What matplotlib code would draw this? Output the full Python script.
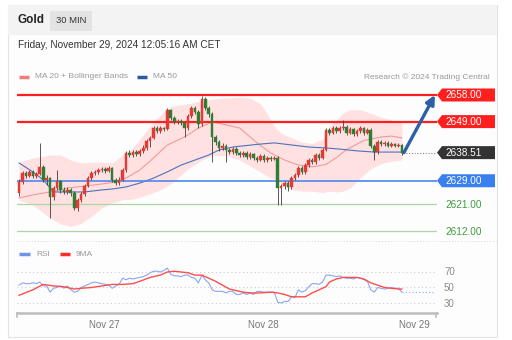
import matplotlib
matplotlib.use("Agg")
import matplotlib.pyplot as plt
import matplotlib.patches as patches

plt.rcParams['font.family'] = ['Liberation Sans', 'DejaVu Sans']

W, H = 512, 340

# 30 min candles, Nov 26 evening -> Nov 29 00:00 CET
closes = [2628.6, 2631.6, 2630.6, 2632.0, 2630.6, 2631.3, 2633.6, 2629.3, 2629.9, 2623.5,
          2626.6, 2628.9, 2625.9, 2625.2, 2625.9, 2624.9, 2619.8, 2622.5, 2624.5, 2627.2,
          2629.9, 2631.6, 2632.0, 2632.6, 2633.0, 2632.3, 2633.3, 2629.3, 2628.2, 2629.3,
          2632.6, 2638.4, 2637.7, 2638.7, 2638.0, 2639.1, 2640.1, 2642.4, 2643.5, 2646.8,
          2645.8, 2646.8, 2646.5, 2652.9, 2650.2, 2648.9, 2649.2, 2648.5, 2646.8, 2650.9,
          2653.6, 2652.3, 2648.2, 2656.7, 2653.6, 2651.6, 2643.8, 2642.1, 2640.1, 2640.8,
          2639.4, 2638.7, 2639.7, 2638.4, 2637.7, 2638.4, 2637.0, 2638.0, 2636.7, 2636.0,
          2637.4, 2636.0, 2636.7, 2636.4, 2636.7, 2626.6, 2627.2, 2628.2, 2626.9, 2629.9,
          2631.0, 2633.3, 2632.0, 2634.3, 2636.0, 2635.3, 2637.7, 2636.7, 2639.4, 2646.2,
          2645.2, 2646.8, 2645.8, 2646.8, 2647.2, 2645.2, 2646.5, 2644.8, 2645.8, 2646.8,
          2645.2, 2646.2, 2640.8, 2638.7, 2642.1, 2641.4, 2641.8, 2640.8, 2641.4, 2640.8,
          2641.1, 2638.51]
highs = [2629.5, 2632.4, 2632.3, 2632.8, 2632.6, 2632.0, 2641.8, 2634.2, 2630.8, 2630.4,
         2627.3, 2632.6, 2629.4, 2626.8, 2627.0, 2626.6, 2625.6, 2623.2, 2625.2, 2627.9,
         2630.7, 2632.4, 2632.8, 2633.3, 2633.6, 2633.7, 2634.0, 2633.8, 2630.0, 2630.2,
         2633.2, 2639.2, 2639.3, 2639.5, 2639.4, 2639.9, 2641.0, 2643.2, 2644.3, 2647.6,
         2647.4, 2647.5, 2647.3, 2653.6, 2653.4, 2650.8, 2649.9, 2649.8, 2649.0, 2651.6,
         2654.3, 2654.4, 2652.9, 2657.7, 2657.2, 2654.2, 2652.1, 2644.5, 2642.8, 2641.6,
         2641.3, 2640.1, 2640.4, 2640.3, 2639.0, 2639.1, 2638.9, 2638.7, 2638.5, 2637.3,
         2638.1, 2637.9, 2637.4, 2637.2, 2637.3, 2637.2, 2627.9, 2629.0, 2628.9, 2630.6,
         2631.7, 2634.0, 2633.9, 2635.0, 2636.7, 2636.6, 2638.4, 2638.3, 2640.1, 2646.9,
         2647.0, 2647.5, 2647.4, 2647.6, 2649.5, 2647.8, 2647.2, 2647.0, 2646.5, 2647.5,
         2647.3, 2647.0, 2646.8, 2641.3, 2642.8, 2642.7, 2642.4, 2642.3, 2642.0, 2641.9,
         2641.7, 2641.5]
lows = [2624.0, 2628.0, 2630.0, 2630.1, 2630.0, 2629.8, 2630.9, 2628.7, 2627.6, 2616.4,
        2622.6, 2626.0, 2625.0, 2624.4, 2624.6, 2623.9, 2619.0, 2618.6, 2621.9, 2623.9,
        2626.8, 2629.4, 2631.0, 2631.4, 2632.0, 2631.6, 2631.8, 2628.7, 2627.4, 2627.6,
        2628.8, 2632.0, 2636.9, 2637.1, 2637.2, 2637.4, 2638.5, 2639.5, 2640.5, 2643.0,
        2645.1, 2645.2, 2645.7, 2646.0, 2649.6, 2648.2, 2648.3, 2647.8, 2643.8, 2646.2,
        2650.3, 2651.6, 2647.0, 2647.6, 2652.9, 2650.6, 2635.3, 2641.2, 2639.2, 2639.5,
        2635.5, 2638.0, 2638.1, 2637.6, 2636.9, 2637.1, 2636.3, 2636.5, 2635.9, 2635.3,
        2635.6, 2635.3, 2635.5, 2635.8, 2635.9, 2620.8, 2620.8, 2626.2, 2625.6, 2626.3,
        2629.2, 2630.4, 2631.2, 2631.4, 2633.6, 2634.5, 2634.8, 2636.0, 2636.2, 2638.9,
        2644.6, 2644.7, 2645.1, 2645.2, 2646.2, 2644.5, 2644.7, 2644.1, 2644.2, 2645.2,
        2644.6, 2644.7, 2640.0, 2636.0, 2638.2, 2640.9, 2640.9, 2640.3, 2640.3, 2640.3,
        2640.3, 2637.8]
first_open = 2624.9
opens = [first_open] + closes[:-1]

# indicator lines (candle index, value)
ma20_idx = [0, 4, 9, 14, 19, 24, 28, 31, 35, 39, 43, 48, 52, 56, 60, 64, 69, 73, 77, 81,
            85, 89, 92, 95, 100, 105, 108, 111]
ma20 = [2623.2, 2624.2, 2625.2, 2626.5, 2627.2, 2627.9, 2628.6, 2629.9, 2632.6, 2636.7,
        2641.1, 2643.8, 2646.8, 2648.9, 2647.9, 2646.8, 2641.8, 2638.4, 2636.0, 2634.3,
        2633.7, 2634.5, 2636.8, 2639.6, 2642.6, 2643.8, 2644.1, 2643.5]
ma50_idx = [0, 4, 7, 10, 14, 19, 24, 27, 31, 35, 39, 43, 47, 51, 55, 58, 62, 69, 74, 79,
            84, 89, 93, 98, 103, 111]
ma50 = [2635.0, 2632.0, 2629.3, 2625.2, 2625.2, 2625.2, 2625.9, 2626.2, 2626.9, 2628.2,
        2629.9, 2632.0, 2634.3, 2636.0, 2637.7, 2639.4, 2640.4, 2641.3, 2641.8, 2641.1,
        2640.4, 2640.1, 2639.7, 2639.1, 2638.7, 2638.7]
bb_idx = [0, 4, 9, 12, 15, 18, 21, 24, 27, 30, 33, 36, 39, 42, 44, 46, 49, 53, 56, 60,
          64, 67, 70, 72, 74, 76, 79, 82, 85, 88, 90, 92, 94, 96, 99, 102, 105, 108, 111]
bb_upper = [2635.3, 2636.7, 2637.7, 2637.7, 2636.0, 2635.0, 2635.3, 2635.3, 2635.0, 2637.7,
            2640.1, 2644.5, 2648.9, 2652.3, 2654.0, 2654.6, 2655.0, 2656.0, 2656.6, 2657.0,
            2657.3, 2657.0, 2655.0, 2651.5, 2647.5, 2645.0, 2643.6, 2642.0, 2641.6, 2643.0,
            2647.5, 2649.5, 2652.0, 2653.0, 2653.0, 2651.8, 2650.5, 2649.5, 2648.5]
bb_lower = [2622.5, 2620.8, 2616.4, 2614.4, 2613.6, 2614.6, 2617.0, 2619.8, 2621.5, 2622.6,
            2622.8, 2623.8, 2625.0, 2626.5, 2628.0, 2630.0, 2633.0, 2636.0, 2637.5, 2637.5,
            2636.0, 2634.0, 2632.0, 2630.5, 2629.5, 2628.0, 2626.0, 2625.5, 2625.5, 2625.0,
            2625.5, 2625.2, 2625.5, 2626.5, 2630.0, 2633.0, 2634.8, 2635.6, 2636.0]

rsi = [53, 56, 55, 55, 56, 55, 57, 52, 52, 44, 49, 50, 52, 49, 52, 47, 44, 45, 50, 52,
       54, 56, 57, 56, 55, 54, 53, 49, 52, 54, 62, 60, 62, 61, 62, 63, 64, 66, 69, 71,
       71, 70, 72, 75, 67, 65, 65, 64, 66, 66, 63, 62, 56, 66, 60, 56, 47, 45, 45, 45,
       43, 45, 45, 41, 41, 43, 41, 43, 41, 45, 45, 44, 44, 44, 44, 31, 30, 32, 32, 38,
       37, 47, 44, 46, 51, 55, 55, 54, 57, 66, 66, 65, 64, 65, 63, 62, 62, 61, 63, 62,
       60, 58, 47, 44, 50, 49, 48, 49, 50, 49, 49, 44]
ma9_idx = [0, 4, 7, 10, 13, 16, 18, 21, 24, 27, 30, 33, 35, 38, 41, 43, 45, 47, 49, 51,
           53, 55, 57, 59, 61, 63, 65, 67, 70, 73, 75, 77, 79, 81, 83, 85, 87, 89, 90, 92,
           94, 96, 98, 100, 102, 104, 106, 108, 110, 111]
ma9 = [40, 47, 54, 52, 51, 48, 49, 50, 52, 54, 54, 55, 58, 63, 66, 70, 71, 70, 69, 66,
       66, 62, 58, 53, 48, 46, 44, 43, 43, 44, 43, 41, 38, 38, 38, 43, 47, 51, 57, 61,
       63, 63, 63, 61, 56, 53, 50, 49, 48, 48]

resistances = [2658.00, 2649.00]
support_main = 2629.00
supports_minor = [2621.00, 2612.00]
last_price = closes[-1]
rsi_levels = [70, 50, 30]
day_labels = ['Nov 27', 'Nov 28', 'Nov 29']
day_pos = [24.7, 70.9, 114.5]

UP = '#e53935'
DOWN = '#2e7d32'
RED = '#ff1f1f'
BLUE_LVL = '#4f86ee'
GREEN_LVL = '#3f9b3f'
GREY_TXT = '#8c8c8c'

fig = plt.figure(figsize=(W / 100, H / 100), dpi=100)


def px_axes(left, top, right, bottom, **kw):
    a = fig.add_axes([left / W, 1 - bottom / H, (right - left) / W, (bottom - top) / H], **kw)
    return a


def overlay(z):
    a = px_axes(0, 0, W, H, zorder=z)
    a.set_xlim(0, W)
    a.set_ylim(H, 0)
    a.axis('off')
    a.patch.set_visible(False)
    return a


# card background and header, pixel coordinates
bg = overlay(-10)
bg.add_patch(patches.Rectangle((8, 5), 489, 332, fc='#fdfdfd', ec='#e3e3e3', lw=0.8))
bg.add_patch(patches.Rectangle((8.4, 5.4), 488.2, 29.6, fc='#f3f3f3', ec='none'))
bg.add_patch(patches.Rectangle((50, 11), 42, 20, fc='#e3e3e3', ec='none'))
bg.text(18, 20, 'Gold', fontsize=8.5, fontweight='bold', color='#222', va='center')
bg.text(71, 20.5, '30 MIN', fontsize=6.8, color='#333', va='center', ha='center')
bg.text(18, 45, 'Friday, November 29, 2024 12:05:16 AM CET', fontsize=7.2, color='#333', va='center')
bg.plot([19, 29], [77, 77], color='#f47c7c', lw=2.5, solid_capstyle='butt')
bg.text(35, 77, 'MA 20 + Bollinger Bands', fontsize=6.0, color='#999', va='center')
bg.plot([137, 147], [77, 77], color='#2c5aa0', lw=2.5, solid_capstyle='butt')
bg.text(153, 77, 'MA 50', fontsize=6.0, color='#999', va='center')
bg.text(490, 77, 'Research \u00a9 2024 Trading Central', fontsize=6.0, color='#999', va='center', ha='right')
bg.plot([17, 497], [241, 241], color='#d8d8d8', lw=0.7, ls=(0, (1, 2)))
bg.plot([19, 30], [254, 254], color='#6f93e8', lw=2.5, solid_capstyle='butt')
bg.text(36, 254, 'RSI', fontsize=6.0, color='#999', va='center')
bg.plot([60, 70], [254, 254], color='#ff2a2a', lw=2.5, solid_capstyle='butt')
bg.text(76, 254, '9MA', fontsize=6.0, color='#999', va='center')

# price panel
ax = px_axes(17, 85, 437, 240)
ax.set_facecolor('none')
ax.set_xlim(-0.6, 121.2)
ax.set_ylim(2608.96, 2661.38)
ax.axis('off')

ax.fill_between(bb_idx, bb_lower, bb_upper, color='#ffe1e1', lw=0, zorder=1)
ax.plot(ma20_idx, ma20, color='#f29a9a', lw=0.8, zorder=2)
ax.plot(ma50_idx, ma50, color='#4a72bb', lw=0.8, zorder=2)

for r in resistances:
    ax.axhline(r, color=RED, lw=1.6, zorder=3)
ax.axhline(support_main, color=BLUE_LVL, lw=1.2, zorder=3)
for s in supports_minor:
    ax.axhline(s, color='#a9d8a3', lw=0.9, zorder=3)

for i, (o, h, l, c) in enumerate(zip(opens, highs, lows, closes)):
    col = UP if c >= o else DOWN
    ax.vlines(i, l, h, color='#3d3d3d', lw=0.6, zorder=4)
    ax.add_patch(patches.Rectangle((i - 0.38, min(o, c)), 0.76, max(abs(c - o), 0.2),
                                   fc=col, ec=col, lw=0.3, zorder=5))

n = len(closes)
ax.plot([n - 0.6, 121.2], [last_price, last_price], color='#888', lw=0.8, ls=(0, (1, 1.5)), zorder=3)
ax.annotate('', xy=(120.6, resistances[0]), xytext=(n - 0.4, last_price),
            arrowprops=dict(arrowstyle='-|>', color='#2e60a8', lw=2.4, mutation_scale=13,
                            shrinkA=0, shrinkB=0), zorder=6, annotation_clip=False)

# RSI panel
ax2 = px_axes(17, 262, 437, 313)
ax2.set_facecolor('none')
ax2.set_xlim(-0.6, 121.2)
ax2.set_ylim(17.1, 82.9)
for v in rsi_levels:
    ax2.axhline(v, color='#cccccc', lw=0.8, ls=(0, (1, 2.5)), xmax=0.998)
ax2.plot(range(n), rsi, color='#88a6f2', lw=0.8)
ax2.plot([n - 1, 120.5], [rsi[-1], rsi[-1]], color='#88a6f2', lw=0.8, ls=(0, (1, 2)))
ax2.plot(ma9_idx, ma9, color='#ff4d4d', lw=1.0)
for s in ['top', 'left', 'right']:
    ax2.spines[s].set_visible(False)
ax2.spines['bottom'].set_color('#bdbdbd')
ax2.spines['bottom'].set_linewidth(1.8)
ax2.set_yticks([])
ax2.set_xticks(day_pos)
ax2.set_xticklabels(day_labels, fontsize=7, color='#777')
ax2.tick_params(axis='x', length=0, pad=5)

# right side labels tied to the data positions
fg = overlay(10)
fg.plot([17, 17], [313, 317], color='#bdbdbd', lw=1.2)
fg.plot([436, 436], [313, 317], color='#bdbdbd', lw=1.2)


def ypix(a, v):
    return H - a.transData.transform((0, v))[1]


def tag(y, text, fc):
    poly = [(437, y), (442, y - 6.5), (495, y - 6.5), (495, y + 6.5), (442, y + 6.5)]
    fg.add_patch(patches.Polygon(poly, closed=True, fc=fc, ec='none'))
    fg.text(445, y + 0.5, text, fontsize=7.2, color='white', va='center')


for r in resistances:
    tag(ypix(ax, r), f'{r:.2f}', RED)
tag(ypix(ax, last_price), f'{last_price:.2f}', '#333333')
tag(ypix(ax, support_main), f'{support_main:.2f}', '#3a7ff0')
for s in supports_minor:
    fg.text(445, ypix(ax, s) + 0.5, f'{s:.2f}', fontsize=7.2, color=GREEN_LVL, va='center')
for v in rsi_levels:
    fg.text(444, ypix(ax2, v) + 0.5, str(v), fontsize=7, color=GREY_TXT, va='center')

fig.savefig('out.png', dpi=100)
